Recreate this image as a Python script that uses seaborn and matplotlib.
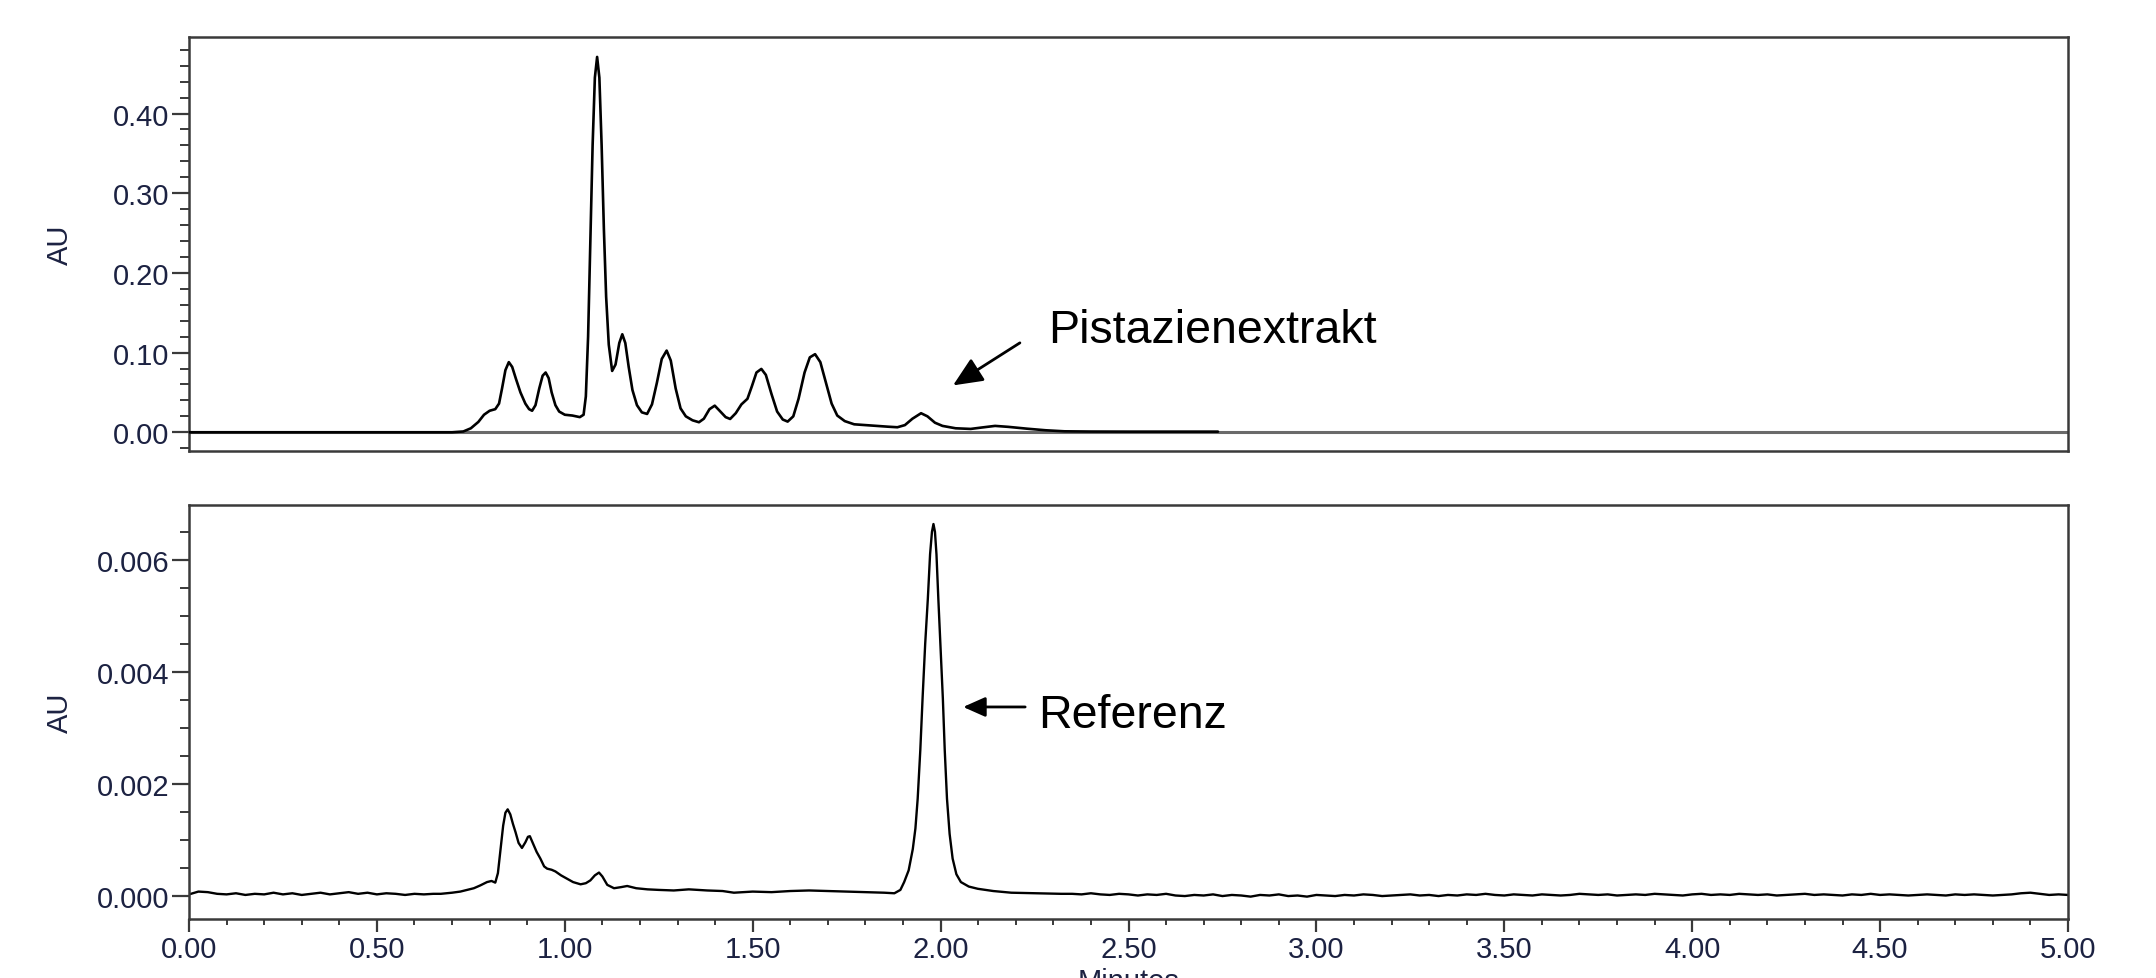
import numpy as np
import pandas as pd
import matplotlib
matplotlib.use("Agg")
import matplotlib.pyplot as plt
import seaborn as sns
from matplotlib.ticker import MultipleLocator, FormatStrFormatter

# ---------------- data ----------------
# Top chromatogram: pistachio extract (time in minutes, absorbance in AU)
extract_time = [0.00, 0.70, 0.73, 0.75, 0.77, 0.785, 0.80, 0.815, 0.825, 0.833,
                0.842, 0.851, 0.860, 0.870, 0.882, 0.895, 0.905, 0.913, 0.922, 0.932,
                0.941, 0.949, 0.957, 0.965, 0.975, 0.985, 1.000, 1.020, 1.040, 1.050,
                1.056, 1.062, 1.068, 1.074, 1.080, 1.086, 1.092, 1.098, 1.104, 1.110,
                1.117, 1.126, 1.135, 1.145, 1.153, 1.161, 1.170, 1.180, 1.192, 1.205,
                1.219, 1.232, 1.245, 1.258, 1.271, 1.282, 1.295, 1.308, 1.322, 1.340,
                1.357, 1.370, 1.385, 1.399, 1.412, 1.428, 1.440, 1.455, 1.470, 1.486,
                1.498, 1.510, 1.523, 1.535, 1.550, 1.565, 1.580, 1.593, 1.608, 1.622,
                1.638, 1.652, 1.666, 1.680, 1.695, 1.710, 1.725, 1.745, 1.770, 1.800,
                1.830, 1.860, 1.885, 1.905, 1.925, 1.948, 1.965, 1.985, 2.005, 2.040,
                2.080, 2.110, 2.145, 2.180, 2.230, 2.280, 2.330, 2.400, 2.500, 2.600,
                2.738]
extract_au = [0.0, 0.0, 0.001, 0.005, 0.013, 0.022, 0.027, 0.029, 0.036, 0.055,
              0.078, 0.088, 0.082, 0.067, 0.050, 0.036, 0.029, 0.027, 0.034, 0.055,
              0.071, 0.075, 0.068, 0.050, 0.034, 0.026, 0.022, 0.021, 0.019, 0.022,
              0.045, 0.120, 0.240, 0.360, 0.445, 0.471, 0.445, 0.360, 0.255, 0.170,
              0.110, 0.077, 0.085, 0.112, 0.123, 0.112, 0.082, 0.053, 0.034, 0.025,
              0.023, 0.035, 0.062, 0.092, 0.1025, 0.090, 0.055, 0.030, 0.020, 0.015,
              0.0126, 0.017, 0.029, 0.0334, 0.027, 0.019, 0.0167, 0.024, 0.035, 0.042,
              0.058, 0.075, 0.0795, 0.072, 0.048, 0.026, 0.016, 0.0134, 0.020, 0.042,
              0.075, 0.094, 0.098, 0.088, 0.062, 0.036, 0.021, 0.014, 0.010, 0.009,
              0.008, 0.007, 0.0063, 0.009, 0.017, 0.0239, 0.020, 0.012, 0.008, 0.005,
              0.0042, 0.006, 0.0080, 0.0068, 0.0045, 0.0025, 0.0012, 0.0009, 0.0008, 0.0008,
              0.0008]

# Bottom chromatogram: reference substance
# baseline before the peaks, 0.00-0.65 min every 0.025 min (units of 1e-5 AU)
ref_head_1e5 = [2, 7, 6, 3, 2, 4, 1, 3, 2, 5, 2, 4, 1, 3, 5, 2, 4, 6, 3, 5,
                2, 4, 3, 1, 3, 2, 3]
# peak region (minutes, AU)
ref_time = [0.67, 0.70, 0.722, 0.74, 0.758, 0.775, 0.793, 0.805, 0.815, 0.822,
            0.829, 0.836, 0.842, 0.848, 0.855, 0.862, 0.869, 0.877, 0.886, 0.895,
            0.902, 0.907, 0.914, 0.925, 0.935, 0.945, 0.953, 0.965, 0.975, 0.990,
            1.006, 1.022, 1.042, 1.056, 1.068, 1.080, 1.091, 1.100, 1.113, 1.131,
            1.150, 1.166, 1.190, 1.220, 1.250, 1.290, 1.330, 1.379, 1.420, 1.450,
            1.500, 1.550, 1.600, 1.650, 1.700, 1.750, 1.800, 1.850, 1.877, 1.893,
            1.903, 1.915, 1.926, 1.933, 1.939, 1.946, 1.952, 1.959, 1.966, 1.972,
            1.977, 1.981, 1.985, 1.989, 1.994, 2.000, 2.006, 2.011, 2.017, 2.024,
            2.032, 2.042, 2.054, 2.075, 2.099, 2.140, 2.188, 2.250, 2.321]
ref_au = [0.00003, 0.00005, 0.00007, 0.00010, 0.00013, 0.00018, 0.00024, 0.00026, 0.00023, 0.00040,
          0.00083, 0.00125, 0.00148, 0.00154, 0.00145, 0.00128, 0.00113, 0.00094, 0.00085, 0.00095,
          0.00105, 0.00106, 0.00095, 0.00078, 0.00066, 0.00052, 0.00048, 0.00046, 0.00043, 0.00036,
          0.00030, 0.00024, 0.00020, 0.00022, 0.00027, 0.00036, 0.00041, 0.00034, 0.00019, 0.00013,
          0.00015, 0.00017, 0.00013, 0.00011, 0.00010, 0.00009, 0.00011, 0.00009, 0.00008, 0.00005,
          0.00007, 0.00006, 0.00008, 0.00009, 0.00008, 0.00007, 0.00006, 0.00005, 0.00004, 0.00010,
          0.00024, 0.00045, 0.00083, 0.00120, 0.00173, 0.00260, 0.00352, 0.00450, 0.00530, 0.00610,
          0.00650, 0.00664, 0.00650, 0.00610, 0.00530, 0.00440, 0.00352, 0.00260, 0.00173, 0.00110,
          0.00066, 0.00038, 0.00024, 0.00016, 0.00012, 0.00008, 0.00005, 0.00004, 0.00003]
# baseline after the peak, 2.35-5.00 min every 0.025 min (units of 1e-5 AU)
ref_tail_1e5 = [3, 2, 4, 2, 1, 3, 2, 0, 2, 1,
                3, 0, -1, 1, 0, 2, -1, 1, 0, -2,
                1, 0, 2, -1, 0, -2, 1, 0, -1, 1,
                0, 2, 1, -1, 0, 1, 2, 0, 1, -1,
                1, 0, 2, 1, 3, 1, 0, 2, 1, 0,
                2, 1, 0, 1, 3, 2, 1, 2, 0, 1,
                2, 1, 3, 2, 1, 0, 2, 3, 1, 2,
                1, 3, 2, 1, 2, 0, 1, 2, 3, 1,
                2, 1, 0, 2, 1, 3, 1, 2, 1, 0,
                1, 2, 1, 0, 2, 1, 2, 1, 0, 1,
                2, 4, 5, 3, 1, 2, 1]

x_major_ticks = [0.0, 0.5, 1.0, 1.5, 2.0, 2.5, 3.0, 3.5, 4.0, 4.5, 5.0]
top_major_ticks = [0.0, 0.1, 0.2, 0.3, 0.4]
bottom_major_ticks = [0.0, 0.002, 0.004, 0.006]

label_extract = "Pistazienextrakt"
label_reference = "Referenz"

# ---------------- assemble tables ----------------
df_top = pd.DataFrame({"Minutes": extract_time, "AU": extract_au})
head_t = np.linspace(0.0, 0.65, len(ref_head_1e5))
tail_t = np.linspace(2.35, 5.0, len(ref_tail_1e5))
df_bot = pd.DataFrame({
    "Minutes": np.concatenate([head_t, ref_time, tail_t]),
    "AU": np.concatenate([np.array(ref_head_1e5) * 1e-5, ref_au,
                          np.array(ref_tail_1e5) * 1e-5]),
})

# ---------------- style ----------------
sns.set_style("white")
plt.rcParams["font.family"] = ["Liberation Sans", "DejaVu Sans"]

tick_color = "#1c2242"
spine_color = "#3a3a3a"
fs_tick = 21

fig = plt.figure(figsize=(21.56, 9.79), dpi=100)
left, width = 189 / 2156, 1879 / 2156
ax1 = fig.add_axes([left, 1 - 452 / 979, width, 414 / 979])
ax2 = fig.add_axes([left, 1 - 920 / 979, width, 414 / 979])

# top panel
ax1.axhline(0, color="#6a6a6a", lw=2.2, zorder=1)
sns.lineplot(data=df_top, x="Minutes", y="AU", ax=ax1, color="black",
             linewidth=1.9, estimator=None, sort=False, zorder=3)
ax1.set_xlim(0, 5)
ax1.set_ylim(-0.0235, 0.496)
ax1.yaxis.set_major_locator(plt.FixedLocator(top_major_ticks))
ax1.yaxis.set_minor_locator(MultipleLocator(0.02))
ax1.yaxis.set_major_formatter(FormatStrFormatter("%.2f"))
ax1.set_xticks([])
ax1.set_xlabel("")

# bottom panel
sns.lineplot(data=df_bot, x="Minutes", y="AU", ax=ax2, color="black",
             linewidth=1.7, estimator=None, sort=False)
ax2.set_xlim(0, 5)
ax2.set_ylim(-0.00042, 0.00698)
ax2.yaxis.set_major_locator(plt.FixedLocator(bottom_major_ticks))
ax2.yaxis.set_minor_locator(MultipleLocator(0.0005))
ax2.yaxis.set_major_formatter(FormatStrFormatter("%.3f"))
ax2.xaxis.set_major_locator(plt.FixedLocator(x_major_ticks))
ax2.xaxis.set_minor_locator(MultipleLocator(0.1))
ax2.xaxis.set_major_formatter(FormatStrFormatter("%.2f"))

for ax in (ax1, ax2):
    for s in ax.spines.values():
        s.set_visible(True)
        s.set_color(spine_color)
        s.set_linewidth(1.8)
    ax.tick_params(axis="y", which="major", left=True, length=12, width=1.6,
                   direction="out", color=spine_color, labelsize=fs_tick,
                   labelcolor=tick_color, pad=2)
    ax.tick_params(axis="y", which="minor", left=True, length=6.5, width=1.4,
                   direction="out", color=spine_color)
    ax.set_ylabel("AU", fontsize=fs_tick, color=tick_color, va="center")
    ax.yaxis.set_label_coords((60 - 189) / 1879, 0.5)

ax2.tick_params(axis="x", which="major", bottom=True, length=9.5, width=1.6,
                direction="out", color=spine_color, labelsize=fs_tick,
                labelcolor=tick_color, pad=2)
ax2.tick_params(axis="x", which="minor", bottom=True, length=4.5, width=1.4,
                direction="out", color=spine_color)
ax2.set_xlabel("Minutes", fontsize=fs_tick, color=tick_color, va="top")
ax2.xaxis.set_label_coords(0.5, -(968 - 920) / 414)

# annotations
arrow_big = dict(arrowstyle="-|>,head_length=0.9,head_width=0.4", mutation_scale=20,
                 lw=2.0, color="black", shrinkA=0, shrinkB=0)
arrow_small = dict(arrowstyle="-|>,head_length=0.9,head_width=0.4", mutation_scale=15,
                   lw=2.0, color="black", shrinkA=0, shrinkB=0)
ax1.annotate("", xy=(2.033, 0.0588), xytext=(2.211, 0.1122), arrowprops=arrow_big)
ax1.text(2.286, 0.113, label_extract, fontsize=33.5, color="black",
         ha="left", va="baseline")
ax2.annotate("", xy=(2.060, 0.00337), xytext=(2.225, 0.00337), arrowprops=arrow_small)
ax2.text(2.259, 0.00302, label_reference, fontsize=33.5, color="black",
         ha="left", va="baseline")

fig.savefig("out.png", dpi=100)
